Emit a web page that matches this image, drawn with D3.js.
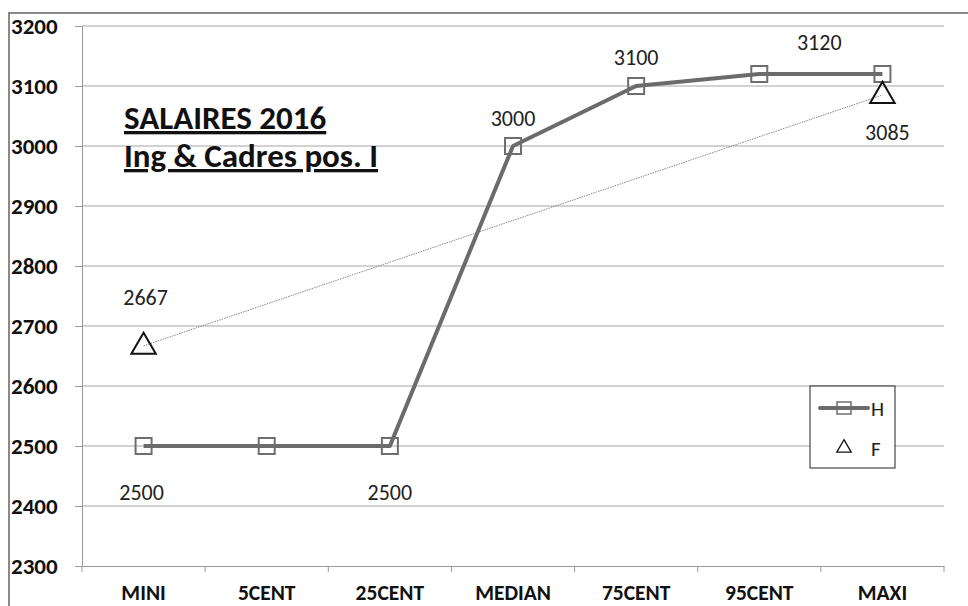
<!DOCTYPE html>
<html>
<head>
<meta charset="utf-8">
<script src="https://cdn.jsdelivr.net/npm/d3@7"></script>
<style>
  body { margin: 0; background: #fff; }
  svg { font-family: Carlito, "Open Sans", "Liberation Sans", sans-serif; }
</style>
</head>
<body>
<svg id="chart" width="968" height="606"></svg>
<script>
// data
var categories = ["MINI", "5CENT", "25CENT", "MEDIAN", "75CENT", "95CENT", "MAXI"];
var valuesH = [2500, 2500, 2500, 3000, 3100, 3120, 3120];
var valuesF = [2667, null, null, null, null, null, 3085];
var yTicks = [2300, 2400, 2500, 2600, 2700, 2800, 2900, 3000, 3100, 3200];
var titleLines = ["SALAIRES 2016", "Ing & Cadres pos. I"];

// which points carry a data label, and where
var labelsH = [
  {i: 0, dx: -2, dy: 54},
  {i: 2, dx: 0, dy: 54},
  {i: 3, dx: 0, dy: -20},
  {i: 4, dx: 0, dy: -21},
  {i: 5, dx: 60, dy: -24}
];
var labelsF = [
  {i: 0, dx: 2, dy: -41},
  {i: 6, dx: 5, dy: 45}
];

var margin = {top: 26, left: 82, right: 24, bottom: 40};
var width = 944 - margin.left, height = 566 - margin.top;

var svg = d3.select("#chart");

// outer frame (only top + left visible)
svg.append("path")
  .attr("d", "M9,606 L9,13 L968,13")
  .attr("fill", "none")
  .attr("stroke", "#8a8a8a")
  .attr("stroke-width", 2);

var g = svg.append("g")
  .attr("transform", "translate(" + margin.left + "," + margin.top + ")");

var xScale = d3.scaleBand()
  .domain(categories)
  .range([0, width]);

var yScale = d3.scaleLinear()
  .domain([2300, 3200])
  .range([height, 0]);

// gridlines
g.selectAll(".grid")
  .data(yTicks.slice(1))
  .enter().append("line")
  .attr("class", "grid")
  .attr("x1", 0).attr("x2", width)
  .attr("y1", d => yScale(d)).attr("y2", d => yScale(d))
  .attr("stroke", "#a6a6a6")
  .attr("stroke-width", 1.2);

// y axis
var yAxis = g.append("g")
  .call(d3.axisLeft(yScale).tickValues(yTicks).tickFormat(d3.format("d")).tickSize(7).tickSizeOuter(0))
  .attr("font-family", null);
yAxis.select(".domain").attr("stroke", "#999");
yAxis.selectAll(".tick line").attr("stroke", "#999");
yAxis.selectAll(".tick text")
  .attr("x", -71)
  .attr("text-anchor", "start")
  .attr("font-size", 23)
  .attr("font-weight", "bold")
  .attr("fill", "#111");

// x axis
var xAxis = g.append("g")
  .attr("transform", "translate(0," + height + ")")
  .call(d3.axisBottom(xScale).tickSize(0).tickPadding(19))
  .attr("font-family", null);
xAxis.select(".domain").attr("stroke", "#999").attr("stroke-width", 1.2);
xAxis.selectAll(".tick text")
  .attr("font-size", 21.5)
  .attr("font-weight", "bold")
  .attr("fill", "#111");

// tick marks at the category boundaries
g.selectAll(".xtick")
  .data(categories.concat(["end"]))
  .enter().append("line")
  .attr("class", "xtick")
  .attr("x1", (d, i) => i * xScale.step())
  .attr("x2", (d, i) => i * xScale.step())
  .attr("y1", height).attr("y2", height + 6)
  .attr("stroke", "#999");

var cx = function(i) { return xScale(categories[i]) + xScale.bandwidth() / 2; };

// F series: thin dotted line across the gaps
var ptsF = valuesF.map((v, i) => ({i: i, v: v})).filter(d => d.v != null);
g.append("path")
  .datum(ptsF)
  .attr("fill", "none")
  .attr("stroke", "#888")
  .attr("stroke-width", 1)
  .attr("stroke-dasharray", "1.5,1")
  .attr("d", d3.line().x(d => cx(d.i)).y(d => yScale(d.v)));

// H series
var ptsH = valuesH.map((v, i) => ({i: i, v: v}));
g.append("path")
  .datum(ptsH)
  .attr("fill", "none")
  .attr("stroke", "#6b6b6b")
  .attr("stroke-width", 4)
  .attr("stroke-linejoin", "round")
  .attr("d", d3.line().x(d => cx(d.i)).y(d => yScale(d.v)));

var sq = 16;
g.selectAll(".markH")
  .data(ptsH)
  .enter().append("rect")
  .attr("x", d => cx(d.i) - sq / 2)
  .attr("y", d => yScale(d.v) - sq / 2)
  .attr("width", sq).attr("height", sq)
  .attr("fill", "none")
  .attr("stroke", "#6e6e6e")
  .attr("stroke-width", 2);

var tri = d3.symbol().type(d3.symbolTriangle).size(260);
g.selectAll(".markF")
  .data(ptsF)
  .enter().append("path")
  .attr("transform", d => "translate(" + cx(d.i) + "," + (yScale(d.v) + 1) + ")")
  .attr("d", tri)
  .attr("fill", "none")
  .attr("stroke", "#111")
  .attr("stroke-width", 2);

// data labels
function addLabels(list, values) {
  g.selectAll(null)
    .data(list)
    .enter().append("text")
    .attr("x", d => cx(d.i) + d.dx)
    .attr("y", d => yScale(values[d.i]) + d.dy)
    .attr("text-anchor", "middle")
    .attr("font-size", 22)
    .attr("fill", "#222")
    .text(d => values[d.i]);
}
addLabels(labelsH, valuesH);
addLabels(labelsF, valuesF);

// title block
svg.selectAll(".title")
  .data(titleLines)
  .enter().append("text")
  .attr("x", 124)
  .attr("y", (d, i) => 129 + i * 38)
  .attr("font-size", 33)
  .attr("font-weight", "bold")
  .attr("text-decoration", "underline")
  .attr("fill", "#111")
  .text(d => d);

// legend
var lg = svg.append("g").attr("transform", "translate(810,386)");
lg.append("rect")
  .attr("width", 85).attr("height", 82)
  .attr("fill", "#fff")
  .attr("stroke", "#222")
  .attr("stroke-width", 1);
lg.append("line")
  .attr("x1", 10).attr("x2", 58)
  .attr("y1", 22).attr("y2", 22)
  .attr("stroke", "#6b6b6b")
  .attr("stroke-width", 4)
  .attr("stroke-linecap", "round");
lg.append("rect")
  .attr("x", 34 - 7).attr("y", 22 - 6)
  .attr("width", 14).attr("height", 12)
  .attr("fill", "none")
  .attr("stroke", "#6e6e6e")
  .attr("stroke-width", 1.5);
lg.append("path")
  .attr("transform", "translate(34,62)")
  .attr("d", d3.symbol().type(d3.symbolTriangle).size(90))
  .attr("fill", "none")
  .attr("stroke", "#111")
  .attr("stroke-width", 1.3);
lg.selectAll(".lgtext")
  .data(["H", "F"])
  .enter().append("text")
  .attr("x", 61)
  .attr("y", (d, i) => 30 + i * 40)
  .attr("font-size", 21)
  .attr("fill", "#222")
  .text(d => d);
</script>
</body>
</html>
